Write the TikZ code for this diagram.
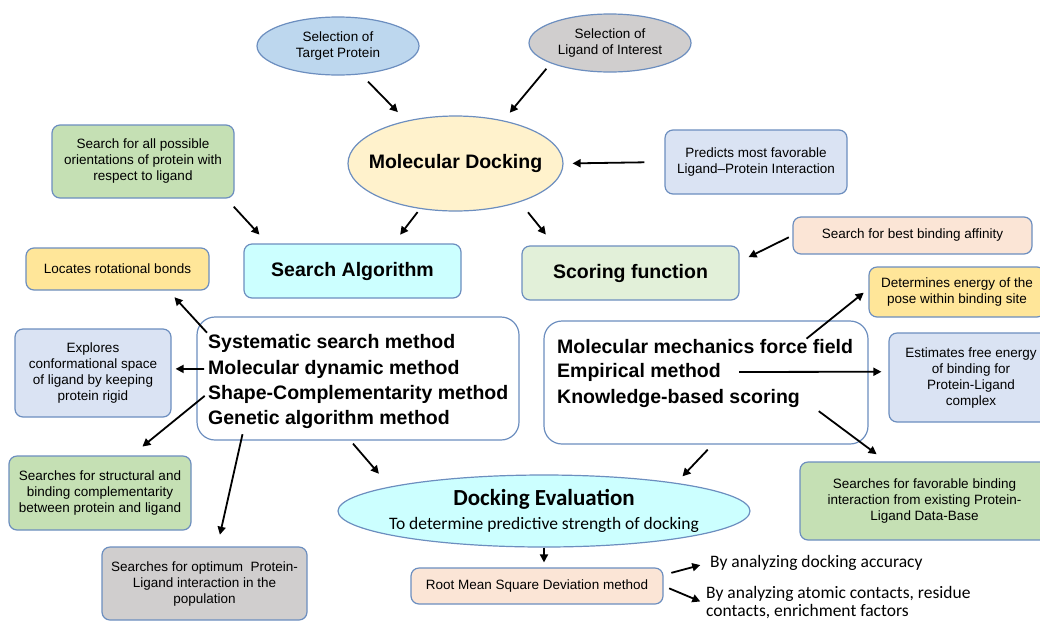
\documentclass[tikz,border=0pt]{standalone}
\usepackage{fontspec}
\setmainfont{Liberation Sans}
\newfontfamily\calibfont{Carlito}
\usepackage{tikz}
\usetikzlibrary{shapes.geometric,arrows.meta,positioning,calc}
\definecolor{edge}{HTML}{6C8EBF}
\definecolor{tgtblue}{HTML}{BDD7EE}
\definecolor{liggray}{HTML}{D0CECE}
\definecolor{dockyel}{HTML}{FFF2CC}
\definecolor{leaf}{HTML}{C5E0B4}
\definecolor{pale}{HTML}{DAE3F3}
\definecolor{aqua}{HTML}{CCFFFF}
\definecolor{mint}{HTML}{E2F0D9}
\definecolor{peach}{HTML}{FBE5D6}
\definecolor{gold}{HTML}{FFE699}

\begin{document}
\begin{tikzpicture}[
  x=1pt,y=-1pt,
  oval/.style={ellipse,draw=edge,line width=1.2pt,align=center,inner sep=1pt,font=\fontsize{13.5}{16}\selectfont},
  box/.style={draw=edge,line width=1.2pt,rounded corners=8pt,align=center,inner sep=2pt,font=\fontsize{13.5}{16}\selectfont},
  head/.style={box,font=\fontsize{19.5}{24}\selectfont\bfseries},
  panel/.style={draw=edge,line width=1.2pt,rounded corners=18pt,fill=white},
  item/.style={anchor=west,inner sep=1pt,font=\fontsize{19.5}{24}\selectfont\bfseries},
  note/.style={anchor=west,inner sep=2pt,align=left,font=\calibfont\fontsize{17.5}{18}\selectfont},
  arrow/.style={-{Triangle[length=8pt,width=8pt]},line width=1.8pt}
]
  \useasboundingbox (0,0) rectangle (1040,622);

  % top row
  \node[oval,fill=tgtblue,minimum width=162pt,minimum height=58pt] (tgt) at (338,46) {Selection of\\Target Protein};
  \node[oval,fill=liggray,minimum width=162pt,minimum height=58pt] (lig) at (610,43) {Selection of\\Ligand of Interest};
  \node[oval,fill=dockyel,inner xsep=-11pt,inner ysep=0pt,minimum width=215pt,minimum height=95pt,font=\fontsize{19.5}{24}\selectfont\bfseries] (md) at (455.5,163.5) {Molecular Docking};
  \node[box,fill=leaf,minimum width=182pt,minimum height=73pt] (orient) at (143,161.5) {Search for all possible\\orientations of protein with\\respect to ligand};
  \node[box,fill=pale,minimum width=182pt,minimum height=64pt] (pred) at (756,162) {Predicts most favorable\\Ligand--Protein Interaction};

  % second row
  \node[head,fill=aqua,minimum width=217pt,minimum height=54pt] (salg) at (352.5,271) {Search Algorithm};
  \node[head,fill=mint,minimum width=217pt,minimum height=54pt] (scor) at (630.5,273) {Scoring function};
  \node[box,fill=peach,minimum width=239pt,minimum height=37pt] (best) at (912.5,235.5) {Search for best binding affinity};
  \node[box,fill=gold,minimum width=183pt,minimum height=42pt] (locates) at (117.5,269) {Locates rotational bonds};
  \node[box,fill=gold,minimum width=176pt,minimum height=50pt] (determ) at (957,292) {Determines energy of the\\pose within binding site};

  % method panels
  \node[panel,minimum width=322pt,minimum height=123pt] (srchm) at (358,378.5) {};
  \node[item] (sys) at (207,343) {Systematic search method};
  \node[item] (mdyn) at (207,369) {Molecular dynamic method};
  \node[item] (shp) at (207,394) {Shape-Complementarity method};
  \node[item] (gen) at (207,419) {Genetic algorithm method};

  \node[panel,minimum width=324pt,minimum height=123pt] (scorm) at (706,382.5) {};
  \node[item] (mmff) at (556,347) {Molecular mechanics force field};
  \node[item] (emp) at (556,372) {Empirical method};
  \node[item] (kbs) at (556,398) {Knowledge-based scoring};

  % side boxes
  \node[box,fill=pale,minimum width=156pt,minimum height=88pt] (expl) at (93,373) {Explores\\conformational space\\of ligand by keeping\\protein rigid};
  \node[box,fill=pale,minimum width=164pt,minimum height=89pt] (est) at (971,377.5) {Estimates free energy\\of binding for\\Protein-Ligand\\complex};
  \node[box,fill=leaf,minimum width=182pt,minimum height=74pt] (strc) at (100,493) {Searches for structural and\\binding complementarity\\between protein and ligand};
  \node[box,fill=leaf,minimum width=249pt,minimum height=78pt] (fav) at (924.5,501) {Searches for favorable binding\\interaction from existing Protein-\\Ligand Data-Base};
  \node[box,fill=liggray,minimum width=205pt,minimum height=73pt] (opt) at (204.5,583.5) {Searches for optimum\ \ Protein-\\Ligand interaction in the\\population};

  % evaluation
  \node[oval,fill=aqua,inner xsep=-13pt,inner ysep=0pt,minimum width=412pt,minimum height=72pt,font=\calibfont\fontsize{17.5}{24}\selectfont] (de) at (544,511) {{\fontsize{23}{24}\selectfont\bfseries Docking Evaluation}\\To determine predictive strength of docking};
  \node[box,fill=peach,minimum width=252pt,minimum height=36pt] (rmsd) at (537,586) {Root Mean Square Deviation method};
  \node[note] (acc) at (708,563) {By analyzing docking accuracy};
  \node[note] (atom) at (704,603) {By analyzing atomic contacts, residue\\contacts, enrichment factors};

  % connectors
  \draw[arrow,shorten <=10pt,shorten >=12pt] (tgt.-51) -- (md.139);
  \draw[arrow,shorten <=7pt,shorten >=10pt] (lig.199) -- (md.42);
  \draw[arrow,shorten <=20pt,shorten >=9pt] (pred.west) -- (md.east);
  \draw[arrow,shorten <=11pt,shorten >=12pt] (orient.-24) -- (salg.162);
  \draw[arrow,shorten <=4pt,shorten >=11pt] (md.232) -- (salg.34);
  \draw[arrow,shorten <=13pt,shorten >=14pt] (md.-31) -- (scor.160);
  \draw[arrow,shorten <=4pt,shorten >=10pt] (best.west) -- (scor.6);

  \draw[arrow,shorten >=9pt] (sys.north west) -- (locates.-23);
  \draw[arrow,shorten <=3pt,shorten >=4pt] (mdyn.west) -- (expl.3);
  \draw[arrow,shorten <=3pt,shorten >=14pt] (shp.west) -- (strc.50);
  \draw[arrow,shorten <=5pt,shorten >=12pt] ($(gen.south west)!0.15!(gen.south east)$) -- (opt.71);
  \draw[arrow,shorten <=4pt,shorten >=17pt] (srchm.263) -- (de.171);

  \draw[arrow,shorten >=6pt] ($(mmff.north west)!0.84!(mmff.north east)$) -- (determ.178);
  \draw[arrow,shorten <=17pt,shorten >=7pt] (emp.east) -- (est.176);
  \draw[arrow,shorten <=22pt,shorten >=12pt] (kbs.east) -- (fav.134);
  \draw[arrow,shorten <=7pt,shorten >=9pt] (scorm.-84) -- (de.12);
  \draw[arrow,shorten >=5pt] (de.south) -- (de.south |- rmsd.north);
  \draw[arrow,shorten <=8pt,shorten >=8pt] (rmsd.5) -- (acc.west);
  \draw[arrow,shorten <=6pt,shorten >=4pt] (rmsd.east) -- (atom.west);
\end{tikzpicture}
\end{document}
